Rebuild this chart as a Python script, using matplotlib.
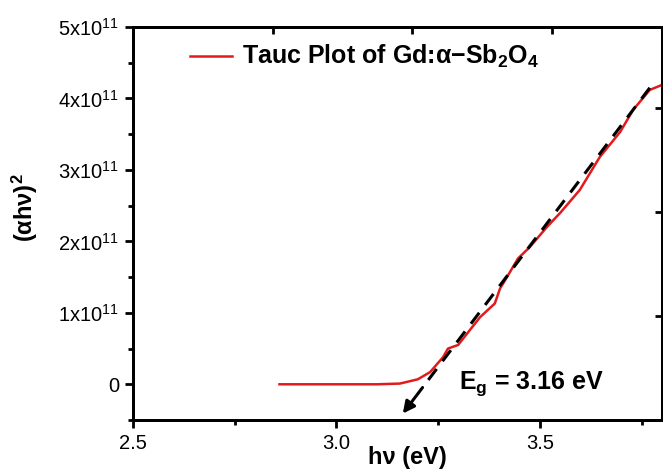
import matplotlib
matplotlib.use("Agg")
import matplotlib.pyplot as plt
from matplotlib.ticker import MultipleLocator, FixedLocator

plt.rcParams['font.family'] = ['Liberation Sans', 'DejaVu Sans']
plt.rcParams['mathtext.fontset'] = 'custom'
plt.rcParams['mathtext.rm'] = 'Liberation Sans'
plt.rcParams['mathtext.bf'] = 'Liberation Sans:bold'
plt.rcParams['mathtext.it'] = 'Liberation Sans:italic'

# Tauc plot data (x in eV, y in units of 1e11)
hv = [2.86, 3.00, 3.10, 3.156, 3.20, 3.23, 3.262, 3.274, 3.299, 3.321, 3.353,
      3.389, 3.402, 3.419, 3.446, 3.475, 3.517, 3.55, 3.598, 3.647, 3.697,
      3.729, 3.77, 3.80]
ahv2 = [0, 0, 0, 0.01, 0.07, 0.17, 0.38, 0.50, 0.55, 0.71, 0.94,
        1.13, 1.34, 1.50, 1.76, 1.92, 2.20, 2.40, 2.72, 3.18, 3.53,
        3.84, 4.12, 4.19]

# linear fit line (extrapolated), end points
fit_x = [3.77, 3.163]
fit_y = [4.15, -0.41]

xticks = [2.5, 3.0, 3.5]
yticks = [0, 1, 2, 3, 4, 5]
ytick_labels = ['0'] + ['%dx10$^{11}$' % v for v in yticks[1:]]

scale = 1e11

fig = plt.figure(figsize=(6.63, 4.74), dpi=100)
ax = fig.add_axes([0.2006, 0.1139, 0.7979, 0.8291])

ax.plot(hv, [v * scale for v in ahv2], color='#e31a1c', lw=1.8,
        label='Tauc Plot of Gd:α−Sb$_\\mathbf{2}$O$_\\mathbf{4}$')

# dashed fit line + arrow head at the bottom end
tail = 0.08
xs = [fit_x[0], fit_x[1] + (fit_x[0] - fit_x[1]) * tail]
ys = [fit_y[0] * scale, (fit_y[1] + (fit_y[0] - fit_y[1]) * tail) * scale]
ax.plot(xs, ys, color='black', lw=2.2, linestyle=(0, (4.5, 3.2)))
ax.annotate('', xy=(fit_x[1], fit_y[1] * scale), xytext=(xs[1], ys[1]),
            arrowprops=dict(arrowstyle='-|>,head_length=0.7,head_width=0.35',
                            color='black', lw=2.2, shrinkA=0, shrinkB=0))

ax.text(3.30, -0.07 * scale, 'E$_\\mathbf{g}$ = 3.16 eV', fontsize=18,
        fontweight='bold', va='baseline', ha='left')

ax.set_xlim(2.5, 3.80)
ax.set_ylim(-0.5 * scale, 5 * scale)
ax.set_xticks(xticks)
ax.set_xticklabels(['%.1f' % v for v in xticks])
ax.xaxis.set_minor_locator(MultipleLocator(0.25))
ax.set_yticks([v * scale for v in yticks])
ax.set_yticklabels(ytick_labels)
ax.yaxis.set_minor_locator(MultipleLocator(0.5 * scale))

ax.tick_params(which='major', direction='out', length=6, width=2,
               labelsize=14.5, pad=4)
ax.tick_params(which='minor', direction='out', length=3.5, width=2)
for s in ax.spines.values():
    s.set_linewidth(2)

ax.set_xlabel('h\u03bd (eV)', fontsize=17, fontweight='bold')
ax.xaxis.set_label_coords(0.518, -0.065)
ax.set_ylabel('(\u03b1h\u03bd)$^\\mathbf{2}$', fontsize=17, fontweight='bold')
ax.yaxis.set_label_coords(-0.175, 0.54)

leg = ax.legend(loc='center left', bbox_to_anchor=(0.088, 0.924), frameon=False,
                handlelength=1.7, handletextpad=0.4, borderaxespad=0,
                prop=dict(size=18, weight='bold'))

# top and right spines carry ticks of their own scale
axt = ax.twiny()
axt.set_xlim(0, 3.79)
axt.xaxis.set_major_locator(FixedLocator([1, 2, 3]))
axt.tick_params(axis='x', direction='in', length=5, width=2, labeltop=False)
axr = ax.twinx()
axr.set_ylim(0, 3.78)
axr.yaxis.set_major_locator(FixedLocator([1, 2, 3]))
axr.tick_params(axis='y', direction='in', length=5, width=2, labelright=False)
for a in (axt, axr):
    for s in a.spines.values():
        s.set_linewidth(2)

fig.savefig('out.png', dpi=100)
